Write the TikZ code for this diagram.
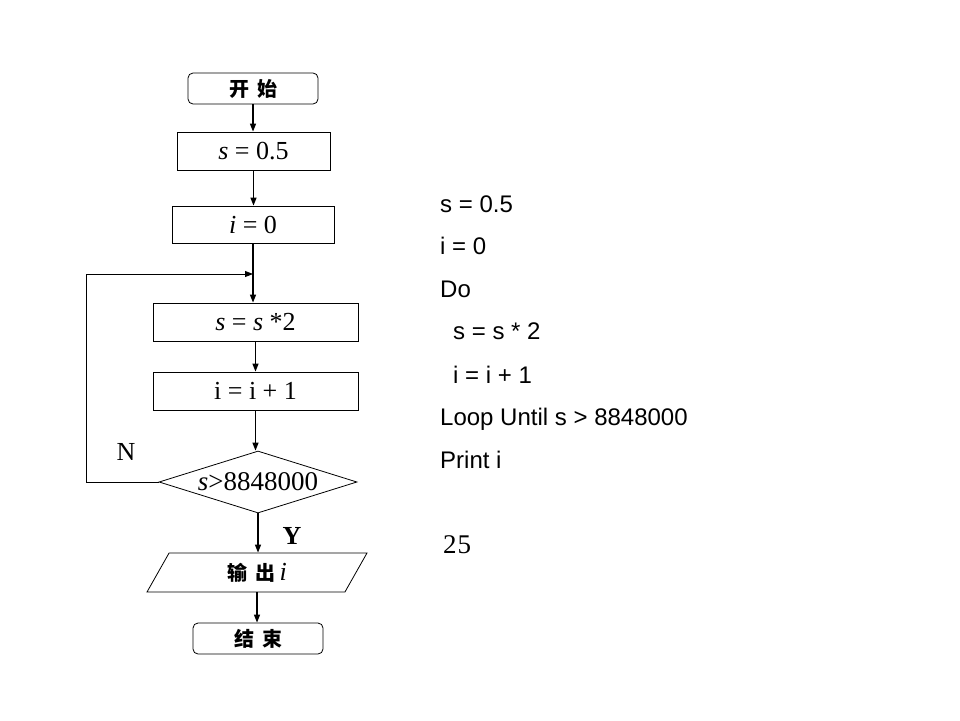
\documentclass[tikz,border=0pt]{standalone}
\usepackage{fontspec}
\setmainfont{Liberation Serif}
\setsansfont{Liberation Sans}
\newfontfamily\cjk{Noto Sans CJK SC}
\usetikzlibrary{arrows.meta,shapes.geometric}

\begin{document}
\begin{tikzpicture}[
        x=1pt, y=-1pt,
        box/.style ={draw, line width=0.8pt, inner sep=0pt, font=\fontsize{26}{30}\selectfont},
        term/.style={box, rounded corners=5pt, minimum width=130pt, minimum height=31pt,
                     font=\fontsize{20}{24}\cjk\bfseries},
        cond/.style={box, diamond, shape aspect=3.2, minimum width=198pt, minimum height=62pt,
                     font=\fontsize{27}{30}\selectfont},
        io/.style  ={box, trapezium, trapezium left angle=41, trapezium right angle=139,
                     trapezium stretches body, minimum width=220pt, minimum height=39pt},
        arr/.style ={line width=1.3pt, -{Triangle[length=8pt,width=6pt]}},
        lbl/.style ={inner sep=0pt, font=\fontsize{26}{30}\selectfont},
        code/.style={anchor=base west, inner sep=0pt, font=\fontsize{24}{28}\sffamily}
    ]
        \useasboundingbox (0,0) rectangle (960,720);
        % flowchart
        \node[term] (start) at (253,88.5) {开\hspace{8pt}始};
        \node[box, minimum width=153pt, minimum height=38pt] (s0) at (253.5,151) {\textit{s} = 0.5};
        \node[box, minimum width=162pt, minimum height=37pt] (i0) at (253,224.5) {\textit{i} = 0};
        \node[box, minimum width=205pt, minimum height=38pt] (ss) at (255.5,322) {\textit{s} = \textit{s} *2};
        \node[box, minimum width=205pt, minimum height=38pt] (ii) at (255.5,391) {i = i + 1};
        \node[cond] (dec) at (258,482) {\textit{s}>8848000};
        \node[io] (out) at (257,572.5) {{\fontsize{20}{24}\cjk\bfseries 输\hspace{8pt}出}\,\textit{i}};
        \node[term] (stop) at (258,638.5) {结\hspace{8pt}束};
        \coordinate (join) at (253,274);
        \draw[arr] (start.south) -- (start.south |- s0.north);
        \draw[arr] (s0.south) -- (s0.south |- i0.north);
        \draw[arr] (i0.south) -- (i0.south |- ss.north);
        \draw[arr] (ss.south) -- (ss.south |- ii.north);
        \draw[arr] (ii.south) -- (ii.south |- dec.north);
        \draw[arr] (dec.south) -- (dec.south |- out.north);
        \draw[arr] (out.south) -- (out.south |- stop.north);
        % back edge
        \draw[arr, line width=0.9pt] (dec.west) -- ++(-72,0) |- (join);
        \node[lbl] (no) at (126,452) {N};
        \node[lbl] (yes) at (292,536) {\textbf{Y}};
        % program text
        \node[code] (c1) at (440,212) {s = 0.5};
        \node[code] (c2) at (440,254) {i = 0};
        \node[code] (c3) at (440,297) {Do};
        \node[code] (c4) at (453,339) {s = s * 2};
        \node[code] (c5) at (453,383) {i = i + 1};
        \node[code] (c6) at (440,425) {Loop Until s > 8848000};
        \node[code] (c7) at (440,468) {Print i};
        \node[anchor=base west, inner sep=0pt, font=\fontsize{27}{30}\selectfont] (res) at (443,553) {2\kern1pt 5};
    \end{tikzpicture}
\end{document}
